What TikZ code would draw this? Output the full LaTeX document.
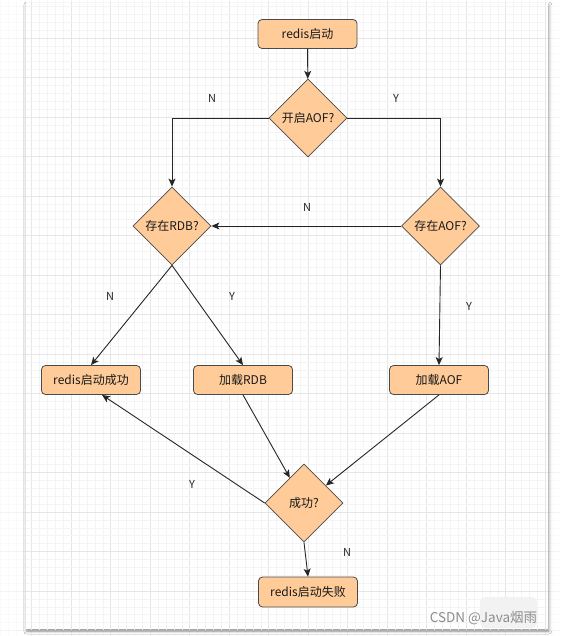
\documentclass[tikz,border=0pt]{standalone}
\usepackage{fontspec}
\setmainfont{Noto Sans CJK SC}
\usetikzlibrary{shapes.geometric,arrows.meta,shadows.blur,calc}
\definecolor{nodefill}{HTML}{FFCC99}
\definecolor{nodedraw}{HTML}{4A4A4A}
\definecolor{minorgrid}{HTML}{F4F4F4}
\definecolor{majorgrid}{HTML}{E6E6E6}
\tikzset{
  proc/.style={draw=nodedraw, fill=nodefill, rounded corners=4pt, minimum width=99pt,
    minimum height=29pt, inner sep=0pt, line width=0.8pt, text=black!90,
    font=\fontsize{12}{14}\selectfont},
  dec/.style={draw=nodedraw, fill=nodefill, diamond, minimum width=78pt, minimum height=78pt,
    inner sep=0pt, line width=0.8pt},
  dectext/.style={text=black!90, font=\fontsize{12}{14}\selectfont, inner sep=0pt},
  flow/.style={draw=black!85, line width=0.9pt, -{Stealth[length=8pt,width=7pt,inset=2pt]}},
  lbl/.style={text=black!85, font=\fontsize{11}{13}\selectfont, inner sep=0pt},
  gminor/.style={draw=minorgrid, line width=0.6pt},
  gmajor/.style={draw=majorgrid, line width=0.7pt},
  wm/.style={text=black!45, font=\fontsize{13.5}{15}\selectfont, inner sep=0pt}
}
\begin{document}
\begin{tikzpicture}[x=1pt,y=-1pt]
\useasboundingbox (0,0) rectangle (560,636);
\fill[white] (0,0) rectangle (560,636);
% faint outer grid
\begin{scope}[opacity=0.45]
\foreach \k in {-4,...,67}{
  \pgfmathtruncatemacro\m{mod(\k+100,5)}
  \ifnum\m=0 \draw[gmajor] ({31.7+7.9*\k},0) -- ({31.7+7.9*\k},636);
  \else \draw[gminor] ({31.7+7.9*\k},0) -- ({31.7+7.9*\k},636); \fi
}
\foreach \k in {-5,...,76}{
  \pgfmathtruncatemacro\m{mod(\k+100,5)}
  \ifnum\m=0 \draw[gmajor] (0,{38+7.9*\k}) -- (560,{38+7.9*\k});
  \else \draw[gminor] (0,{38+7.9*\k}) -- (560,{38+7.9*\k}); \fi
}
\end{scope}
% card
\fill[white, blur shadow={shadow xshift=0.8pt, shadow yshift=-2pt, shadow blur radius=3pt, shadow opacity=45}]
  (26,3) rectangle (548,629);
\begin{scope}
\clip (26,3) rectangle (548,629);
\foreach \k in {-4,...,67}{
  \pgfmathtruncatemacro\m{mod(\k+100,5)}
  \ifnum\m=0 \draw[gmajor] ({31.7+7.9*\k},0) -- ({31.7+7.9*\k},636);
  \else \draw[gminor] ({31.7+7.9*\k},0) -- ({31.7+7.9*\k},636); \fi
}
\foreach \k in {-5,...,76}{
  \pgfmathtruncatemacro\m{mod(\k+100,5)}
  \ifnum\m=0 \draw[gmajor] (0,{38+7.9*\k}) -- (560,{38+7.9*\k});
  \else \draw[gminor] (0,{38+7.9*\k}) -- (560,{38+7.9*\k}); \fi
}
\end{scope}

% nodes
\node[proc] (start) at (307.5,34) {redis启动};
\node[dec, label={[dectext]center:开启AOF?}] (aof) at (308,118) {};
\node[dec, label={[dectext]center:存在RDB?}] (rdbq) at (172,226) {};
\node[dec, label={[dectext]center:存在AOF?}] (aofq) at (440.5,226) {};
\node[proc] (succ) at (91,380) {redis启动成功};
\node[proc] (lrdb) at (243,380) {加载RDB};
\node[proc] (laof) at (439,380) {加载AOF};
\node[dec, label={[dectext]center:成功?}] (ok) at (304,503) {};
\node[proc, minimum height=30pt] (fail) at (308,592) {redis启动失败};
\coordinate (succin) at ($(succ.south)+(11,0)$);

% connectors
\draw[flow] (start) -- (aof);
\draw[flow] (aof.west) -| (rdbq.north);
\draw[flow] (aof.east) -| (aofq.north);
\draw[flow] (aofq.west) -- (rdbq.east);
\draw[flow] (rdbq.south) -- (succ.north);
\draw[flow] (rdbq.south) -- (lrdb.north);
\draw[flow] (aofq.south) -- (laof.north);
\draw[flow] (lrdb.south) -- (ok);
\draw[flow] (laof.south) -- (ok);
\draw[flow] (ok.west) -- (succin);
\draw[flow] (ok.south) -- (fail.north);

% labels
\node[lbl] (l1) at (212,98) {N};
\node[lbl] (l2) at (396,98) {Y};
\node[lbl] (l3) at (307,207) {N};
\node[lbl] (l4) at (110,296) {N};
\node[lbl] (l5) at (232,296) {Y};
\node[lbl] (l6) at (469,306) {Y};
\node[lbl] (l7) at (192,484) {Y};
\node[lbl] (l8) at (347,552) {N};

% watermark
\fill[black!5, rounded corners=6pt] (480,597) rectangle (537,628);
\node[wm] (wm) at (483.5,618) {CSDN @Java烟雨};
\end{tikzpicture}
\end{document}
